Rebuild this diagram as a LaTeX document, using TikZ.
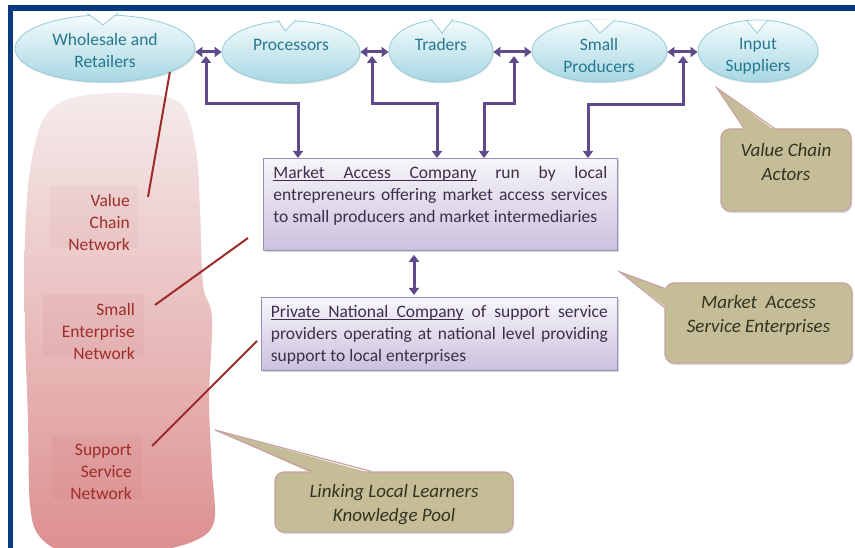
\documentclass[tikz,border=0pt]{standalone}
\usepackage{fontspec}
\setmainfont{Carlito}
\usetikzlibrary{arrows.meta,shapes.geometric,shadows}
\newcommand{\ulw}[1]{\leavevmode\setbox0\hbox{#1}\rlap{\rule[-2.6pt]{\wd0}{0.9pt}}\box0\relax}
\newcommand{\uls}{\leavevmode\leaders\hrule height -1.7pt depth 2.6pt\hskip\fontdimen2\font plus\fontdimen3\font minus\fontdimen4\font\relax}
\definecolor{framenavy}{HTML}{0A3A7F}
\definecolor{elltop}{HTML}{F4FBFC}
\definecolor{ellbot}{HTML}{A6D7E3}
\definecolor{elledge}{HTML}{93CCDA}
\definecolor{elltext}{HTML}{26788F}
\definecolor{arrpurple}{HTML}{5F4A8B}
\definecolor{boxtop}{HTML}{F7F5FA}
\definecolor{boxbot}{HTML}{CBC1DD}
\definecolor{boxedge}{HTML}{9B8CBF}
\definecolor{boxtext}{HTML}{3A304B}
\definecolor{calfill}{HTML}{C4BD97}
\definecolor{caledge}{HTML}{C9A3A3}
\definecolor{caltext}{HTML}{33331F}
\definecolor{blobtop}{HTML}{F5EBEB}
\definecolor{blobbot}{HTML}{DD8F8F}
\definecolor{lbltext}{HTML}{9E2D2B}
\definecolor{redline}{HTML}{9E2B2B}
\begin{document}
\begin{tikzpicture}[x=1pt,y=-1pt,
  ell/.style={ellipse, inner sep=0pt, top color=elltop, bottom color=ellbot, draw=elledge, line width=0.8pt,
    drop shadow={shadow xshift=0.8pt, shadow yshift=-1.5pt, opacity=0.22}},
  elltxt/.style={text=elltext, font=\fontsize{17.5}{22}\selectfont, align=center, inner sep=0pt},
  notch/.style={draw=elledge, line width=0.8pt},
  link/.style={draw=arrpurple, line width=3pt, {Triangle[length=7pt,width=10pt]}-{Triangle[length=7pt,width=10pt]}},
  mbox/.style={rectangle, top color=boxtop, bottom color=boxbot, draw=boxedge, line width=0.8pt, text=boxtext,
    font=\fontsize{17.5}{22}\selectfont, inner xsep=10pt, inner ysep=8pt,
    drop shadow={shadow xshift=1.5pt, shadow yshift=-2pt, opacity=0.3}},
  calbox/.style={rectangle, rounded corners=9pt, fill=calfill, draw=caledge, line width=1.2pt, text=caltext,
    font=\fontsize{19}{24}\selectfont\itshape, inner sep=0pt,
    drop shadow={shadow xshift=1pt, shadow yshift=-2pt, opacity=0.3}},
  calline/.style={draw=caledge, line width=1.2pt},
  lbl/.style={text=lbltext, font=\fontsize{17.5}{22}\selectfont, align=right, inner sep=0pt},
  lblbox/.style={fill=lbltext, opacity=0.045},
  redln/.style={draw=redline, line width=2pt}
]
\useasboundingbox (0,0) rectangle (855,548);
\fill[white] (0,0) rectangle (855,548);

% pink blob
\shade[top color=blobtop, bottom color=blobbot] plot[smooth cycle, tension=0.55] coordinates {(72,98) (130,93) (180,103) (196,150) (200,210) (203,285) (212,318) (209,400) (212,470) (214,522) (192,542) (140,553) (70,553) (40,537) (30,505) (28,420) (25,330) (25,240) (30,170) (44,118)};

\fill[lblbox] (50,186) rectangle (138,248);
\node[lbl, anchor=east] (vcn) at (130,222) {Value\\Chain\\Network};
\fill[lblbox] (43,294) rectangle (144,357);
\node[lbl, anchor=east] (sen) at (135,331) {Small\\Enterprise\\Network};
\fill[lblbox] (52,435) rectangle (142,499);
\node[lbl, anchor=east] (ssn) at (132,472) {Support\\Service\\Network};

% ellipses
\node[ell, minimum width=180pt, minimum height=67pt] (e1) at (105,48.5) {};
\node[ell, minimum width=138pt, minimum height=62pt] (e2) at (291,52) {};
\node[ell, minimum width=104pt, minimum height=62pt] (e3) at (441,51) {};
\node[ell, minimum width=135pt, minimum height=62pt] (e4) at (599.5,51) {};
\node[ell, minimum width=120pt, minimum height=62pt] (e5) at (758,51) {};
% notches
\fill[white] (87,13) -- (103,25) -- (118,13) -- cycle; \draw[notch] (87,13) -- (103,25) -- (118,13);
\fill[white] (278,20) -- (285,31) -- (296,20) -- cycle; \draw[notch] (278,20) -- (285,31) -- (296,20);
\fill[white] (431,19) -- (442,33) -- (453,19) -- cycle; \draw[notch] (431,19) -- (442,33) -- (453,19);
\fill[white] (588,20) -- (600,33) -- (615,20) -- cycle; \draw[notch] (588,20) -- (600,33) -- (615,20);
\fill[white] (747,21) -- (757,33) -- (767,21) -- cycle; \draw[notch] (747,21) -- (757,33) -- (767,21);
\node[elltxt] (t1) at (105,50) {Wholesale and\\Retailers};
\node[elltxt] (t2) at (291,45) {Processors};
\node[elltxt] (t3) at (441,44) {Traders};
\node[elltxt] (t4) at (599,55.5) {Small\\Producers};
\node[elltxt] (t5) at (758,56.5) {Input\\Suppliers};

% boxes
\node[mbox, anchor=north west] (mac) at (263,158) {\parbox[c][76pt][t]{334pt}{\ulw{Market}\uls\ulw{Access}\uls\ulw{Company} run by local\linebreak entrepreneurs offering market access services\linebreak to small producers and market intermediaries}};
\node[mbox, anchor=north west, inner xsep=9.5pt] (pnc) at (261,297) {\parbox[c][57pt][t]{337pt}{\ulw{Private}\uls\ulw{National}\uls\ulw{Company} of support service\linebreak providers operating at national level providing\linebreak support to local enterprises}};

% red lines
\coordinate (r1) at (148,197);
\draw[redln] (r1) -- (e1.-20);
\coordinate (r2a) at (155,305); \coordinate (r2b) at (248,238);
\draw[redln] (r2a) -- (r2b);
\coordinate (r3a) at (152,446); \coordinate (r3b) at (257,341);
\draw[redln] (r3a) -- (r3b);

% connectors
\coordinate (m12) at (206,52); \coordinate (m23) at (372,52);
\coordinate (m34) at (514,52); \coordinate (m45) at (683,52);
\coordinate (k1) at (298,104); \coordinate (k2) at (437,104);
\coordinate (k3) at (484,104); \coordinate (k4) at (588,105);
\draw[link] (e1.east |- m12) -- (e2.west |- m12);
\draw[link] (e2.east |- m23) -- (e3.west |- m23);
\draw[link] (e3.east |- m34) -- (e4.west |- m34);
\draw[link] (e4.east |- m45) -- (e5.west |- m45);
\draw[link] ([yshift=-4pt]m12) |- (k1) -- (k1 |- mac.north);
\draw[link] ([yshift=-4pt]m23) |- (k2) -- (k2 |- mac.north);
\draw[link] ([yshift=-4pt]m34) |- (k3) -- (k3 |- mac.north);
\draw[link] ([yshift=-4pt]m45) |- (k4) -- (k4 |- mac.north);
\coordinate (vx) at (414,0);
\draw[link, shorten <=4pt, shorten >=2pt] (vx |- mac.south) -- (vx |- pnc.north);

% callouts
\node[calbox] (vca) at (786,170) {\parbox[c][82pt][t]{130pt}{\centering\vspace*{14.5pt}Value Chain\\Actors}};
\coordinate (vcatip) at (717,88);
\fill[calfill] ([xshift=24pt,yshift=-2pt]vca.north west) -- (vcatip) -- ([xshift=54pt,yshift=-2pt]vca.north west) -- cycle;
\draw[calline] ([xshift=24pt]vca.north west) -- (vcatip) -- ([xshift=54pt]vca.north west);

\node[calbox] (mase) at (758.5,323) {\parbox[c][80pt][t]{187pt}{\centering\vspace*{12.5pt}Market~~Access\\Service Enterprises}};
\coordinate (masetip) at (620,272);
\fill[calfill] ([xshift=2pt,yshift=-6pt]mase.north west) -- (masetip) -- ([xshift=2pt,yshift=-25pt]mase.north west) -- cycle;
\draw[calline] ([yshift=-6pt]mase.north west) -- (masetip) -- ([yshift=-25pt]mase.north west);

\node[calbox] (llk) at (394,502) {\parbox[c][60pt][t]{238pt}{\centering\vspace*{12.5pt}Linking Local Learners\\Knowledge Pool}};
\coordinate (llktip) at (215,430);
\fill[calfill] ([xshift=38pt,yshift=-2pt]llk.north west) -- (llktip) -- ([xshift=97pt,yshift=-2pt]llk.north west) -- cycle;
\draw[calline] ([xshift=38pt]llk.north west) -- (llktip) -- ([xshift=97pt]llk.north west);

% frame
\fill[framenavy] (8,5) rectangle (855,11);
\fill[framenavy] (8,5) rectangle (13,548);
\end{tikzpicture}
\end{document}
